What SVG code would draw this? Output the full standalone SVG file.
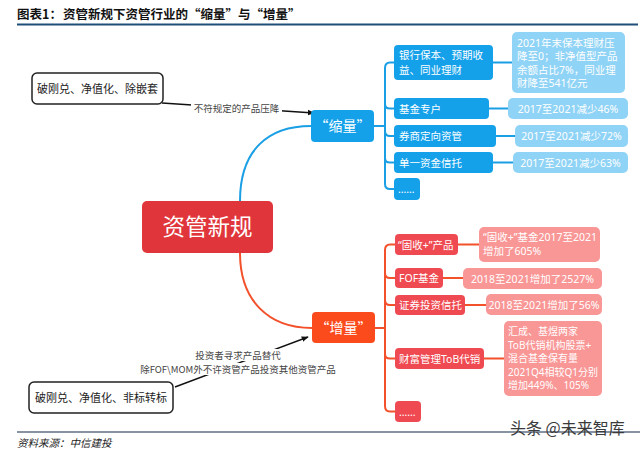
<svg xmlns="http://www.w3.org/2000/svg" width="640" height="451" viewBox="0 0 640 451">
<defs>
<marker id="arr" viewBox="0 0 10 10" refX="9" refY="5" markerWidth="7" markerHeight="7" orient="auto" markerUnits="userSpaceOnUse">
<path d="M0,1 L10,5 L0,9 Z" fill="#111"/>
</marker>
<style>
text{font-family:"Noto Sans CJK SC","Noto Sans",sans-serif;}
.w{fill:#fff;font-size:10.5px;font-family:"Noto Sans","Noto Sans CJK SC",sans-serif;}
.s{font-size:10px;}
.bc{fill:#14a1ea;}
.bd{fill:#8fd3f6;}
.rc{fill:#ef4a51;}
.rd{fill:#f99696;}
.bl{fill:none;stroke:#1a9fe5;stroke-width:2;}
.rl{fill:none;stroke:#f3512c;stroke-width:2;}
.note{font-size:9.5px;fill:#444;}
.lb{fill:#fff;stroke:#222;stroke-width:1.5;}
.lt{font-size:11px;fill:#222;}
</style>
</defs>
<rect width="640" height="451" fill="#fff"/>
<!-- header -->
<text x="17" y="19" font-size="12.5" font-weight="bold" fill="#111">图表1：</text>
<text x="63" y="19" font-size="12.5" font-weight="bold" fill="#111">资管新规下资管行业的“缩量”与“增量”</text>
<line x1="17" y1="24.5" x2="638" y2="24.5" stroke="#1f4e79" stroke-width="2"/>
<line x1="17" y1="432" x2="640" y2="432" stroke="#5f6f84" stroke-width="1.5"/>
<text x="17" y="447" font-size="10.5" font-style="italic" fill="#222">资料来源：中信建投</text>
<text x="510" y="434" font-size="16" fill="#3a3a3a">头条 @未来智库</text>

<g id="connectors">
<path class="bl" d="M240,201 C240,150 268,126 311,126"/>
<path class="rl" d="M240,253 C240,300 268,328 312,328"/>
<path class="bl" d="M374,126 H385 M385,68 V184 M385,68 Q385,62.5 390,62.5 H394 M385,184 Q385,189 390,189 H394 M385,104 Q385,108.5 390,108.5 H394 M385,131 Q385,136 390,136 H394 M385,158 Q385,162.5 390,162.5 H394"/>
<path class="bl" d="M493,62.5 H512 M489,108.5 H508 M496,136 H515 M493,162.5 H513"/>
<path class="rl" d="M375,328 H385 M385,250 V406 M385,250 Q385,244.5 390,244.5 H395 M385,406 Q385,411.5 390,411.5 H395 M385,273 Q385,278 390,278 H395 M385,300 Q385,305 390,305 H395 M385,354 Q385,358.5 390,358.5 H395"/>
<path class="rl" d="M458,244.5 H479 M443,278 H463 M465,305 H486 M484,358.5 H504"/>
<line x1="162" y1="103" x2="314" y2="113" stroke="#111" stroke-width="1.5" marker-end="url(#arr)"/>
<line x1="175" y1="387" x2="308" y2="337" stroke="#111" stroke-width="1.5" marker-end="url(#arr)"/>
<rect x="191" y="102" width="91" height="12" fill="#fff"/>
<text class="note" x="236.5" y="111.5" text-anchor="middle">不符规定的产品压降</text>
<rect x="192" y="349" width="92" height="12" fill="#fff"/>
<rect x="137" y="363" width="203" height="12" fill="#fff"/>
<text class="note" x="238" y="359" text-anchor="middle">投资者寻求产品替代</text>
<text class="note" x="238" y="373" text-anchor="middle">除FOF\MOM外不许资管产品投资其他资管产品</text>
</g>

<g id="root">
<rect x="142" y="201" width="131" height="52" rx="5" fill="#e0363b"/>
<text x="207.5" y="235" font-size="22.5" fill="#fff" text-anchor="middle">资管新规</text>
</g>

<g id="box-top">
<rect class="lb" x="32" y="73" width="131" height="31" rx="5"/>
<text class="lt" x="97.5" y="92.5" text-anchor="middle">破刚兑、净值化、除嵌套</text>
</g>
<g id="box-bottom">
<rect class="lb" x="29" y="382" width="144" height="31" rx="5"/>
<text class="lt" x="101" y="401.5" text-anchor="middle">破刚兑、净值化、非标转标</text>
</g>

<g id="shrink">
<rect x="311" y="110" width="63" height="32" rx="4" fill="#14a1ea"/>
<text x="342.5" y="131" font-size="14" fill="#fff" text-anchor="middle" font-family="Noto Sans, Noto Sans CJK SC, sans-serif">“缩量”</text>
</g>
<g id="grow">
<rect x="312" y="312" width="63" height="31" rx="4" fill="#fb4a1c"/>
<text x="343.5" y="332.5" font-size="14" fill="#fff" text-anchor="middle" font-family="Noto Sans, Noto Sans CJK SC, sans-serif">“增量”</text>
</g>

<g id="b1">
<rect class="bc" x="394" y="45" width="99" height="35" rx="4"/>
<text class="w" x="399" y="59">银行保本、预期收</text>
<text class="w" x="399" y="74">益、同业理财</text>
</g>
<g id="b2"><rect class="bc" x="394" y="98" width="95" height="21" rx="4"/><text class="w" x="399" y="112.5">基金专户</text></g>
<g id="b3"><rect class="bc" x="394" y="125" width="102" height="22" rx="4"/><text class="w" x="399" y="140">券商定向资管</text></g>
<g id="b4"><rect class="bc" x="394" y="152" width="99" height="21" rx="4"/><text class="w" x="399" y="166.5">单一资金信托</text></g>
<g id="b5"><rect class="bc" x="394" y="178" width="26" height="22" rx="4"/><text class="w" x="398" y="193">……</text></g>

<g id="bd1">
<rect class="bd" x="512" y="32" width="113" height="61" rx="5"/>
<text class="w" x="517" y="46.5">2021年末保本理财压</text>
<text class="w" x="517" y="60">降至0；非净值型产品</text>
<text class="w" x="517" y="73.5">余额占比7%，同业理</text>
<text class="w" x="517" y="87">财降至541亿元</text>
</g>
<g id="bd2"><rect class="bd" x="508" y="98" width="120" height="21" rx="5"/><text class="w" x="568" y="112.5" text-anchor="middle">2017至2021减少46%</text></g>
<g id="bd3"><rect class="bd" x="515" y="125" width="113" height="22" rx="5"/><text class="w" x="571.5" y="140" text-anchor="middle">2017至2021减少72%</text></g>
<g id="bd4"><rect class="bd" x="513" y="152" width="115" height="21" rx="5"/><text class="w" x="570.5" y="166.5" text-anchor="middle">2017至2021减少63%</text></g>

<g id="r1"><rect class="rc" x="395" y="234" width="63" height="21" rx="4"/><text class="w" x="398" y="248.5">“固收+”产品</text></g>
<g id="r2"><rect class="rc" x="395" y="268" width="48" height="20" rx="4"/><text class="w" x="399" y="282">FOF基金</text></g>
<g id="r3"><rect class="rc" x="395" y="295" width="70" height="20" rx="4"/><text class="w" x="399" y="309">证券投资信托</text></g>
<g id="r4"><rect class="rc" x="395" y="348" width="89" height="21" rx="4"/><text class="w" x="399" y="362.5">财富管理ToB代销</text></g>
<g id="r5"><rect class="rc" x="395" y="401" width="26" height="21" rx="4"/><text class="w" x="399" y="415.5">……</text></g>

<g id="rd1">
<rect class="rd" x="479" y="227" width="121" height="35" rx="5"/>
<text class="w" x="483" y="241">“固收+”基金2017至2021</text>
<text class="w" x="483" y="255">增加了605%</text>
</g>
<g id="rd2"><rect class="rd" x="463" y="268" width="139" height="21" rx="5"/><text class="w" x="532.5" y="282.5" text-anchor="middle">2018至2021增加了2527%</text></g>
<g id="rd3"><rect class="rd" x="486" y="294" width="116" height="21" rx="5"/><text class="w" x="544" y="308.5" text-anchor="middle">2018至2021增加了56%</text></g>
<g id="rd4">
<rect class="rd" x="504" y="321" width="98" height="75" rx="5"/>
<text class="w s" x="508" y="335">汇成、基煜两家</text>
<text class="w s" x="508" y="348.5">ToB代销机构股票+</text>
<text class="w s" x="508" y="362">混合基金保有量</text>
<text class="w s" x="508" y="375.5">2021Q4相较Q1分别</text>
<text class="w s" x="508" y="389">增加449%、105%</text>
</g>
</svg>
